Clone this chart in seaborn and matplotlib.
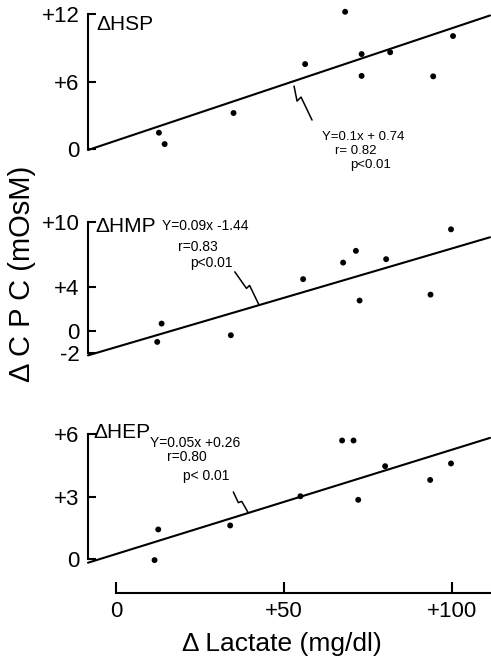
import numpy as np
import pandas as pd
import matplotlib
matplotlib.use("Agg")
import matplotlib.pyplot as plt
import seaborn as sns

# Change in lactate (mg/dl) and change in colloid particle concentration (mOsM)
hsp_lactate = [12.8, 14.5, 35.0, 56.3, 68.2, 73.1, 73.1, 81.6, 94.4, 100.3]
hsp_delta = [1.45, 0.44, 3.2, 7.55, 12.2, 8.44, 6.5, 8.6, 6.46, 10.04]

hmp_lactate = [12.3, 13.6, 34.2, 55.7, 67.6, 71.4, 72.5, 80.4, 93.6, 99.7]
hmp_delta = [-0.96, 0.71, -0.35, 4.76, 6.27, 7.34, 2.81, 6.58, 3.35, 9.3]

hep_lactate = [11.5, 12.6, 34.0, 54.9, 67.3, 70.7, 72.1, 80.1, 93.5, 99.7]
hep_delta = [-0.03, 1.44, 1.63, 3.03, 5.7, 5.7, 2.86, 4.47, 3.81, 4.6]

# Regression fits (slope, intercept)
fits = {
    "HSP": (0.1, 0.74),
    "HMP": (0.09, -1.44),
    "HEP": (0.05, 0.26),
}
eq_labels = {
    "HSP": "Y=0.1x + 0.74",
    "HMP": "Y=0.09x -1.44",
    "HEP": "Y=0.05x +0.26",
}
r_labels = {"HSP": "r= 0.82", "HMP": "r=0.83", "HEP": "r=0.80"}
p_labels = {"HSP": "p<0.01", "HMP": "p<0.01", "HEP": "p< 0.01"}

y_ticks = {
    "HSP": [0, 6, 12],
    "HMP": [-2, 0, 4, 10],
    "HEP": [0, 3, 6],
}
y_ticklabels = {
    "HSP": ["0", "+6", "+12"],
    "HMP": ["-2", "0", "+4", "+10"],
    "HEP": ["0", "+3", "+6"],
}
x_ticks = [0, 50, 100]
x_ticklabels = ["0", "+50", "+100"]

sns.set_style("ticks")
plt.rcParams["font.family"] = ["Liberation Sans", "DejaVu Sans"]
plt.rcParams.update({
    "axes.linewidth": 1.5,
    "axes.edgecolor": "black",
    "text.color": "black",
    "axes.labelcolor": "black",
    "xtick.color": "black",
    "ytick.color": "black",
})

W, H = 491, 659
fig = plt.figure(figsize=(W / 100, H / 100), dpi=100)

xlim = (-8.3, 111.3)
ax_left, ax_width = 88 / W, 402 / W

layout = {
    # name: (bottom, height, ylim)
    "HSP": (0.7568, 0.2390, (-1.0, 13.0)),
    "HMP": (0.4472, 0.2331, (-3.0, 11.0)),
    "HEP": (0.1003, 0.2566, (-1.6, 6.5)),
}
series = {
    "HSP": (hsp_lactate, hsp_delta),
    "HMP": (hmp_lactate, hmp_delta),
    "HEP": (hep_lactate, hep_delta),
}
# panel name placement (data coords) and annotation text placement
name_pos = {"HSP": (-5.7, 11.1), "HMP": (-6.2, 9.55), "HEP": (-6.8, 6.06)}
eq_pos = {
    "HSP": [(61.3, 1.09), (65.2, -0.18), (69.6, -1.42)],
    "HMP": [(13.8, 9.6), (18.5, 7.65), (22.0, 6.24)],
    "HEP": [(10.1, 5.6), (15.1, 4.92), (20.0, 4.01)],
}
# zig-zag pointer: x on the fit line, pixel offsets (right, down) from that point
pointers = {
    "HSP": (53.0, [(0, 5), (3, 20), (7, 16), (18, 39)]),
    "HMP": (42.6, [(-24.3, -33.3), (-12.6, -16.7), (-9.5, -19.7), (0, 0)]),
    "HEP": (39.4, [(-15, -21), (-10, -10.3), (-6.6, -11.6), (0, 0)]),
}

for name, (bottom, height, ylim) in layout.items():
    ax = fig.add_axes([ax_left, bottom, ax_width, height])
    xs, ys = series[name]
    df = pd.DataFrame({"lactate": xs, "delta": ys})
    sns.scatterplot(data=df, x="lactate", y="delta", ax=ax, color="black",
                    s=18, edgecolor="none", zorder=3, clip_on=False)

    slope, intercept = fits[name]
    line_x = np.array([xlim[0], xlim[1]])
    line_df = pd.DataFrame({"lactate": line_x, "delta": slope * line_x + intercept})
    sns.lineplot(data=line_df, x="lactate", y="delta", ax=ax, color="black",
                 linewidth=1.5, clip_on=False)

    ax.set_xlim(*xlim)
    ax.set_ylim(*ylim)
    ax.set_xlabel("")
    ax.set_ylabel("")
    ax.set_facecolor("none")

    ax.set_yticks(y_ticks[name])
    ax.set_yticklabels(y_ticklabels[name])
    ax.spines["left"].set_bounds(min(y_ticks[name]), max(y_ticks[name]))
    ax.tick_params(axis="y", direction="in", length=6, width=1.5,
                   labelsize=16, pad=6)
    sns.despine(ax=ax, top=True, right=True, bottom=(name != "HEP"))
    if name == "HEP":
        ax.set_xticks(x_ticks)
        ax.set_xticklabels(x_ticklabels)
        ax.spines["bottom"].set_bounds(0, xlim[1])
        ax.tick_params(axis="x", direction="in", length=8, width=1.5,
                       labelsize=16, pad=6)
    else:
        ax.set_xticks([])

    nx, ny = name_pos[name]
    ax.text(nx, ny, "\u0394" + name, fontsize=15, va="center", ha="left")

    fs = 9.5 if name == "HSP" else 10
    for (tx, ty), label in zip(eq_pos[name],
                               [eq_labels[name], r_labels[name], p_labels[name]]):
        ax.text(tx, ty, label, fontsize=fs, va="center", ha="left")

    px, offs = pointers[name]
    anchor = ax.transData.transform((px, slope * px + intercept))
    pts = np.array([[anchor[0] + dx, anchor[1] - dy] for dx, dy in offs])
    data_pts = ax.transData.inverted().transform(pts)
    ax.plot(data_pts[:, 0], data_pts[:, 1], color="black", linewidth=1.1,
            clip_on=False)

fig.text(22.5 / W, 1 - 274 / H, "\u0394 C P C (mOsM)", rotation=90,
         fontsize=21, ha="center", va="center")
fig.text(282 / W, 1 - 651 / H, "\u0394 Lactate (mg/dl)", fontsize=19,
         ha="center", va="baseline")

fig.savefig("out.png", dpi=100, facecolor="white")
